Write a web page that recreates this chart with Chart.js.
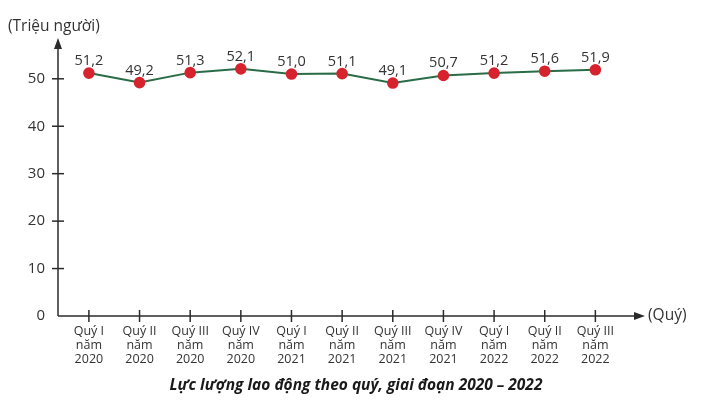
<!DOCTYPE html>
<html>
<head>
<meta charset="utf-8">
<script src="https://cdn.jsdelivr.net/npm/chart.js@4"></script>
<style>
  html, body { margin: 0; padding: 0; background: #fff; }
  #wrap { width: 719px; height: 406px; position: relative; }
</style>
</head>
<body>
<div id="wrap"><canvas id="chart"></canvas></div>
<script>
// Données
const quarters = [
  ["Quý I", "năm", "2020"], ["Quý II", "năm", "2020"], ["Quý III", "năm", "2020"], ["Quý IV", "năm", "2020"],
  ["Quý I", "năm", "2021"], ["Quý II", "năm", "2021"], ["Quý III", "năm", "2021"], ["Quý IV", "năm", "2021"],
  ["Quý I", "năm", "2022"], ["Quý II", "năm", "2022"], ["Quý III", "năm", "2022"]
]
const labour = [51.2, 49.2, 51.3, 52.1, 51.0, 51.1, 49.1, 50.7, 51.2, 51.6, 51.9]
const yTicks = [0, 10, 20, 30, 40, 50]

const FONT = "'Open Sans', 'Noto Sans', sans-serif"
const TEXT = "#333333"

// Axes, flèches, graduations et étiquettes de valeurs
const axesPlugin = {
  id: "axesPlugin",
  afterDraw(chart) {
    const ctx = chart.ctx
    const area = chart.chartArea
    const xs = chart.scales.x
    const ys = chart.scales.y
    const x0 = area.left
    const y0 = ys.getPixelForValue(0)

    ctx.save()
    ctx.strokeStyle = "#2b2b2b"
    ctx.fillStyle = "#2b2b2b"
    ctx.lineWidth = 1.5

    // axe vertical
    ctx.beginPath()
    ctx.moveTo(x0, y0)
    ctx.lineTo(x0, area.top + 8)
    ctx.stroke()
    ctx.beginPath()
    ctx.moveTo(x0, area.top)
    ctx.lineTo(x0 - 4, area.top + 11)
    ctx.lineTo(x0 + 4, area.top + 11)
    ctx.closePath()
    ctx.fill()

    // axe horizontal
    ctx.beginPath()
    ctx.moveTo(x0, y0)
    ctx.lineTo(area.right - 8, y0)
    ctx.stroke()
    ctx.beginPath()
    ctx.moveTo(area.right, y0)
    ctx.lineTo(area.right - 11, y0 - 4)
    ctx.lineTo(area.right - 11, y0 + 4)
    ctx.closePath()
    ctx.fill()

    // graduations
    yTicks.forEach((v) => {
      if (v === 0) return
      const py = ys.getPixelForValue(v)
      ctx.beginPath()
      ctx.moveTo(x0 - 6, py)
      ctx.lineTo(x0 + 6, py)
      ctx.stroke()
    })
    quarters.forEach((q, i) => {
      const px = xs.getPixelForValue(i)
      ctx.beginPath()
      ctx.moveTo(px, y0 - 6)
      ctx.lineTo(px, y0 + 6)
      ctx.stroke()
    })

    // titres des axes
    ctx.fillStyle = TEXT
    ctx.font = "15.5px " + FONT
    ctx.textBaseline = "middle"
    ctx.textAlign = "left"
    ctx.fillText("(Triệu người)", 8, 27)
    ctx.fillText("(Quý)", area.right + 3, y0)

    // valeurs au-dessus des points
    ctx.font = "14.5px " + FONT
    ctx.textAlign = "center"
    ctx.textBaseline = "alphabetic"
    const meta = chart.getDatasetMeta(0)
    meta.data.forEach((pt, i) => {
      ctx.fillText(labour[i].toFixed(1).replace(".", ","), pt.x, pt.y - 8)
    })

    // légende
    ctx.font = "italic bold 15.5px " + FONT
    ctx.fillStyle = "#1a1a1a"
    ctx.textBaseline = "middle"
    ctx.fillText("Lực lượng lao động theo quý, giai đoạn 2020 – 2022", 356, 386)
    ctx.restore()
  },
}

const ctx = document.getElementById("chart").getContext("2d")
new Chart(ctx, {
  type: "line",
  data: {
    datasets: [
      {
        data: labour.map((v, i) => ({ x: i, y: v })),
        borderColor: "#2a6c47",
        borderWidth: 2,
        pointBackgroundColor: "#d6232d",
        pointBorderColor: "#d6232d",
        pointRadius: 4.8,
        tension: 0,
      },
    ],
  },
  options: {
    responsive: true,
    maintainAspectRatio: false,
    animation: false,
    layout: { padding: { top: 38, right: 74, left: 0, bottom: 0 } },
    plugins: { legend: { display: false }, tooltip: { enabled: false } },
    scales: {
      x: {
        type: "linear",
        min: -0.61,
        max: 10.98,
        border: { display: false },
        grid: { display: false, drawTicks: false },
        afterBuildTicks: (scale) => {
          scale.ticks = quarters.map((q, i) => ({ value: i }))
        },
        afterFit: (scale) => {
          scale.height = 90
        },
        ticks: {
          padding: 8,
          maxRotation: 0,
          autoSkip: false,
          color: TEXT,
          font: { family: FONT, size: 12.5, lineHeight: 1.12 },
          callback: (v) => quarters[v],
        },
      },
      y: {
        min: 0,
        max: 58.6,
        border: { display: false },
        grid: { display: false, drawTicks: false },
        afterBuildTicks: (scale) => {
          scale.ticks = yTicks.map((v) => ({ value: v }))
        },
        afterFit: (scale) => {
          scale.width = 58
        },
        ticks: {
          padding: 13,
          color: TEXT,
          font: { family: FONT, size: 15 },
        },
      },
    },
  },
  plugins: [axesPlugin],
})
</script>
</body>
</html>
